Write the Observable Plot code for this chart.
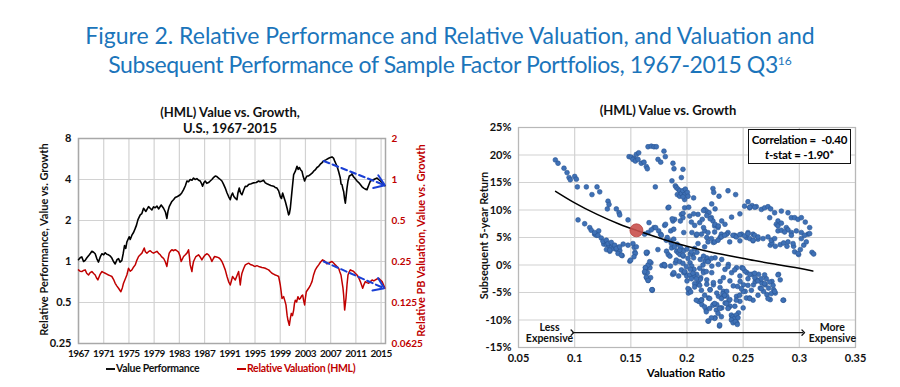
<!DOCTYPE html>
<html><head><meta charset="utf-8">
<script src="https://cdn.jsdelivr.net/npm/d3@7"></script>
<script src="https://cdn.jsdelivr.net/npm/@observablehq/plot@0.6"></script>
<style>
body{margin:0;background:#fff;}
#wrap{position:relative;width:900px;height:387px;overflow:hidden;font-family:Lato,"Open Sans",sans-serif;background:#fff;}
.abs{position:absolute;}
.title{left:0;width:900px;text-align:center;color:#1b75bb;font-size:23px;line-height:29px;top:21px;}
.title .l2{letter-spacing:-0.4px;}
.title sup{font-size:12px;vertical-align:top;position:relative;top:-4px;letter-spacing:0;}
.ptitle{font-weight:bold;font-size:13px;text-align:center;color:#111;line-height:16px;}
.rot{transform:rotate(-90deg);text-align:center;font-weight:bold;font-size:11px;white-space:nowrap;}
.legend{font-weight:bold;font-size:10.5px;top:362px;white-space:nowrap;letter-spacing:-0.3px;}
.sw{display:inline-block;width:9px;height:2px;vertical-align:middle;margin-right:1px;}
#corr{left:748px;top:129px;width:101px;height:31px;border:1.5px solid #111;background:#fff;font-weight:bold;font-size:11.5px;text-align:center;line-height:15px;padding-top:2px;white-space:nowrap;letter-spacing:-0.2px;}
#left g[aria-label="x-axis tick label"] text{letter-spacing:-0.5px;}
</style></head>
<body><div id="wrap">
<div class="abs title">Figure 2. Relative Performance and Relative Valuation, and Valuation and<br><span class="l2">Subsequent Performance of Sample Factor Portfolios, 1967-2015 Q3<sup>16</sup></span></div>
<div class="abs ptitle" style="left:130px;top:104px;width:200px;">(HML) Value vs. Growth,<br>U.S., 1967-2015</div>
<div id="left" class="abs" style="left:0;top:128px;"></div>
<div class="abs rot" style="left:-107px;top:233px;width:300px;color:#111;">Relative Performance, Value vs. Growth</div>
<div class="abs rot" style="left:270px;top:234px;width:300px;color:#c00000;">Relative PB Valuation, Value vs. Growth</div>
<div class="abs legend" style="left:106px;color:#111;"><span class="sw" style="background:#111"></span>Value Performance</div>
<div class="abs legend" style="left:237px;color:#c00000;"><span class="sw" style="background:#c00000"></span>Relative Valuation (HML)</div>
<div class="abs ptitle" style="left:568px;top:102px;width:200px;">(HML) Value vs. Growth</div>
<div id="right" class="abs" style="left:450px;top:117px;"></div>
<div class="abs rot" style="left:333px;top:229px;width:300px;color:#111;">Subsequent 5-year Return</div>
<div class="abs" style="left:586px;top:366px;width:200px;text-align:center;font-weight:bold;font-size:11.5px;">Valuation Ratio</div>
<div id="corr" class="abs">Correlation =&nbsp; -0.40<br><i>t</i>-stat = -1.90*</div>
</div>
<script>
// ---------- Left panel data ----------
const yearTicks = [1967,1971,1975,1979,1983,1987,1991,1995,1999,2003,2007,2011,2015];
const perfTicks = [0.25,0.5,1,2,4,8];
// Value performance (relative, log scale) [year, value]
const valuePerformance = [
[1967.0,1.03],[1967.3,1.07],[1967.53,1.08],[1967.8,1.0],[1968.06,1.02],[1968.3,1.06],[1968.59,1.10],[1968.9,1.15],[1969.12,1.19],[1969.4,1.17],[1969.65,1.14],[1969.9,1.05],[1970.17,0.99],[1970.45,1.08],[1970.70,1.14],[1971.0,1.12],[1971.23,1.16],[1971.5,1.13],[1971.76,1.12],[1972.0,1.10],[1972.29,1.06],[1972.55,1.0],[1972.82,0.96],[1973.1,1.03],[1973.35,1.05],[1973.6,0.99],[1973.88,1.02],[1974.1,1.15],[1974.30,1.31],[1974.5,1.25],[1974.67,1.39],[1975.04,1.52],[1975.2,1.45],[1975.47,1.56],[1975.75,1.64],[1976.0,1.75],[1976.2,1.85],[1976.42,2.02],[1976.79,2.2],[1977.05,2.25],[1977.32,2.46],[1977.69,2.33],[1978.11,2.53],[1978.4,2.45],[1978.64,2.39],[1978.9,2.52],[1979.17,2.48],[1979.45,2.55],[1979.70,2.43],[1980.12,2.6],[1980.49,2.46],[1980.8,2.3],[1981.02,2.07],[1981.2,2.35],[1981.39,2.53],[1981.81,2.76],[1982.1,2.85],[1982.34,2.95],[1982.7,3.0],[1983.14,3.09],[1983.4,3.2],[1983.67,3.37],[1983.95,3.6],[1984.20,3.9],[1984.45,3.85],[1984.72,4.0],[1985.0,3.95],[1985.25,4.1],[1985.5,4.0],[1985.78,4.06],[1986.05,3.95],[1986.31,3.9],[1986.5,3.75],[1986.68,3.57],[1986.9,3.8],[1987.11,3.9],[1987.35,3.75],[1987.63,3.8],[1987.9,3.9],[1988.16,4.0],[1988.45,4.15],[1988.69,4.24],[1988.95,4.2],[1989.22,4.1],[1989.5,4.0],[1989.75,3.9],[1990.0,3.7],[1990.28,3.46],[1990.55,3.2],[1990.81,3.0],[1991.07,2.84],[1991.25,3.05],[1991.44,3.18],[1991.65,3.0],[1991.87,2.92],[1992.13,2.84],[1992.3,3.2],[1992.50,3.46],[1992.7,3.2],[1992.93,3.09],[1993.2,3.35],[1993.46,3.57],[1993.7,3.55],[1993.98,3.67],[1994.4,3.72],[1994.78,3.78],[1995.2,3.8],[1995.57,3.9],[1995.8,3.85],[1996.10,3.9],[1996.35,3.95],[1996.63,3.78],[1996.9,3.72],[1997.16,3.67],[1997.5,3.62],[1997.95,3.57],[1998.2,3.5],[1998.48,3.46],[1998.75,3.3],[1999.01,3.0],[1999.2,2.9],[1999.38,3.18],[1999.6,2.95],[1999.81,2.76],[2000.1,2.45],[2000.33,2.2],[2000.45,2.25],[2000.60,2.46],[2000.86,3.27],[2001.13,4.35],[2001.4,4.6],[2001.66,5.0],[2001.85,4.75],[2002.03,4.9],[2002.25,4.7],[2002.45,4.6],[2002.65,4.2],[2002.87,3.9],[2003.05,4.1],[2003.24,4.24],[2003.5,4.25],[2003.77,4.35],[2004.05,4.45],[2004.30,4.6],[2004.55,4.7],[2004.83,4.9],[2005.1,5.0],[2005.36,5.18],[2005.6,5.3],[2005.89,5.48],[2006.3,5.6],[2006.68,5.73],[2006.95,5.8],[2007.21,5.86],[2007.45,5.75],[2007.63,5.48],[2007.85,5.2],[2008.01,5.0],[2008.25,4.6],[2008.53,4.1],[2008.65,3.7],[2008.80,3.67],[2008.95,3.4],[2009.06,3.27],[2009.2,2.9],[2009.33,2.68],[2009.45,3.0],[2009.59,3.46],[2009.75,3.9],[2009.96,4.24],[2010.2,4.3],[2010.39,4.4],[2010.6,4.2],[2010.81,4.1],[2011.0,4.0],[2011.18,3.9],[2011.45,3.8],[2011.71,3.67],[2011.95,3.55],[2012.24,3.46],[2012.5,3.4],[2012.77,3.37],[2013.0,3.6],[2013.30,3.9],[2013.55,3.95],[2013.83,4.0],[2014.1,4.05],[2014.36,4.1],[2014.6,4.0],[2014.89,3.9],[2015.2,3.8],[2015.41,3.67],[2015.6,3.6]
];
// Relative PB valuation (right axis) [year, value]
const relativeValuation = [
[1967.0,0.217],[1967.25,0.212],[1967.53,0.211],[1967.8,0.215],[1968.06,0.217],[1968.3,0.205],[1968.59,0.199],[1968.85,0.207],[1969.12,0.211],[1969.4,0.204],[1969.65,0.199],[1969.85,0.19],[1970.07,0.183],[1970.4,0.2],[1970.70,0.211],[1970.95,0.208],[1971.23,0.205],[1971.5,0.202],[1971.76,0.199],[1972.0,0.197],[1972.29,0.194],[1972.55,0.185],[1972.82,0.173],[1973.1,0.165],[1973.35,0.159],[1973.72,0.150],[1973.95,0.16],[1974.14,0.173],[1974.4,0.185],[1974.67,0.199],[1974.94,0.223],[1975.2,0.212],[1975.47,0.217],[1975.75,0.228],[1976.0,0.236],[1976.25,0.255],[1976.53,0.272],[1976.8,0.28],[1977.06,0.288],[1977.43,0.314],[1977.6,0.295],[1977.85,0.288],[1978.1,0.295],[1978.38,0.300],[1978.65,0.292],[1978.91,0.288],[1979.2,0.293],[1979.44,0.297],[1979.7,0.287],[1979.97,0.280],[1980.2,0.27],[1980.49,0.264],[1980.75,0.25],[1981.02,0.230],[1981.2,0.26],[1981.39,0.288],[1981.6,0.298],[1981.81,0.305],[1982.1,0.3],[1982.34,0.305],[1982.6,0.3],[1982.87,0.293],[1983.1,0.275],[1983.29,0.250],[1983.5,0.262],[1983.67,0.272],[1983.95,0.28],[1984.20,0.288],[1984.46,0.305],[1984.6,0.27],[1984.72,0.236],[1984.99,0.211],[1985.1,0.23],[1985.25,0.250],[1985.45,0.262],[1985.62,0.272],[1986.04,0.280],[1986.3,0.27],[1986.57,0.257],[1986.85,0.27],[1987.11,0.280],[1987.4,0.285],[1987.63,0.280],[1987.9,0.268],[1988.16,0.250],[1988.4,0.263],[1988.59,0.272],[1988.9,0.27],[1989.22,0.267],[1989.5,0.26],[1989.75,0.250],[1990.0,0.235],[1990.28,0.217],[1990.55,0.195],[1990.81,0.178],[1991.07,0.168],[1991.25,0.18],[1991.44,0.194],[1991.65,0.188],[1991.87,0.183],[1992.1,0.195],[1992.40,0.211],[1992.66,0.168],[1992.8,0.19],[1992.93,0.205],[1993.2,0.222],[1993.46,0.236],[1993.75,0.24],[1993.98,0.243],[1994.25,0.238],[1994.51,0.236],[1994.8,0.232],[1995.04,0.230],[1995.3,0.233],[1995.57,0.230],[1995.85,0.228],[1996.10,0.226],[1996.35,0.225],[1996.63,0.223],[1996.9,0.22],[1997.16,0.217],[1997.45,0.21],[1997.69,0.205],[1997.95,0.202],[1998.22,0.199],[1998.5,0.197],[1998.75,0.194],[1999.01,0.168],[1999.15,0.15],[1999.28,0.134],[1999.54,0.138],[1999.75,0.128],[1999.91,0.120],[2000.1,0.1],[2000.23,0.0925],[2000.44,0.085],[2000.6,0.095],[2000.76,0.104],[2000.95,0.1],[2001.13,0.110],[2001.25,0.122],[2001.39,0.130],[2001.6,0.126],[2001.81,0.138],[2002.0,0.132],[2002.19,0.134],[2002.4,0.14],[2002.56,0.142],[2002.7,0.13],[2002.87,0.120],[2003.0,0.135],[2003.14,0.150],[2003.35,0.155],[2003.51,0.159],[2003.8,0.168],[2004.04,0.178],[2004.3,0.2],[2004.57,0.217],[2004.85,0.228],[2005.10,0.236],[2005.4,0.248],[2005.73,0.257],[2005.95,0.254],[2006.15,0.250],[2006.4,0.24],[2006.68,0.243],[2006.95,0.247],[2007.21,0.250],[2007.5,0.243],[2007.74,0.236],[2008.0,0.23],[2008.27,0.223],[2008.45,0.21],[2008.64,0.199],[2008.80,0.178],[2008.95,0.16],[2009.06,0.142],[2009.22,0.110],[2009.43,0.134],[2009.6,0.17],[2009.75,0.199],[2009.95,0.21],[2010.12,0.217],[2010.4,0.214],[2010.65,0.211],[2010.9,0.205],[2011.18,0.199],[2011.45,0.19],[2011.71,0.178],[2011.9,0.168],[2012.08,0.159],[2012.3,0.17],[2012.50,0.178],[2012.75,0.175],[2013.04,0.173],[2013.3,0.178],[2013.57,0.183],[2013.85,0.18],[2014.10,0.183],[2014.35,0.186],[2014.63,0.188],[2014.9,0.183],[2015.16,0.178],[2015.4,0.168],[2015.6,0.159]
];
// Blue dashed trend arrows (start/end); k = right-axis scale factor
const trendArrows = [
  {x1:2005.9, y1:5.47, x2:2015.6, y2:3.63, k:1},
  {x1:2005.9, y1:0.25, x2:2015.5, y2:0.159, k:4}
];

// ---------- Right panel data ----------
const ratioTicks = [0.05,0.1,0.15,0.2,0.25,0.3,0.35];
const returnTicks = [-15,-10,-5,0,5,10,15,20,25];
// [valuation ratio, subsequent 5-year return %]
const scatterPoints = [
[.0828,19.1],[.0852,18.5],[.0905,17.6],[.0932,16.8],[.095,15.9],[.0961,15.5],[.1,16.1],[.1015,15.6],[.1024,14.2],[.1104,14.2],[.1154,12.8],[.1199,14.2],[.1223,13.3],[.1297,11.6],[.1306,11.0],[.1291,10.2],[.1371,10.2],[.1395,9.5],[.1401,9.1],[.1475,8.2],[.103,8.2],[.1089,7.5],[.1134,6.8],[.1214,6.2],[.1178,5.6],[.1193,5.4],
[.1484,19.7],[.1504,19.6],[.1528,19.4],[.1519,19.2],[.154,18.9],[.1549,20.1],[.1564,19.2],[.157,20.4],[.1593,18.5],[.1617,18.7],[.1638,17.9],[.1647,17.5],[.1653,21.5],[.1682,21.6],[.1706,21.5],[.1727,21.5],[.1742,19.2],[.1766,18.7],[.1795,20.7],[.1807,19.7],[.1875,18.5],[.1884,17.5],[.1964,17.4],[.195,15.9],[.1866,15.3],[.1896,14.4],[.1905,14.1],[.192,13.8],[.1935,13.5],[.1914,12.8],[.1935,12.5],[.195,13.0],[.1964,13.5],[.1979,12.8],[.1985,13.8],[.2003,13.2],[.2009,12.5],[.1979,11.9],[.1964,12.4],[.2059,12.2],[.1718,14.2],[.1831,10.4],[.1875,8.0],[.189,8.3],[.195,9.2],[.1964,8.6],[.1979,10.4],[.2024,8.9],[.2039,7.8],[.2068,7.2],[.2098,9.2],[.2113,7.7],[.2136,8.3],[.2157,10.1],[.2172,9.8],[.2196,9.5],[.2217,8.6],[.2231,8.0],[.2246,7.1],[.2276,6.8],[.2231,13.9],[.2238,13.2],[.2285,12.5],[.2365,13.5],[.2433,12.8],
[.1801,7.2],[.1855,6.2],[.1748,6.2],[.1706,6.8],[.1653,5.9],[.1623,5.6],[.1682,6.4],
[.2513,10.7],[.2543,11.5],[.2558,10.4],[.2579,10.8],[.2617,10.6],[.2662,10.1],[.2691,10.4],[.2721,10.6],[.2745,10.2],[.2736,8.6],[.278,9.5],[.281,8.0],[.284,9.8],[.2899,9.5],[.2929,8.6],[.2958,8.6],[.2988,8.3],[.3018,8.6],[.3053,7.8],[.2795,7.4],[.281,7.1],[.284,7.6],[.2884,6.8],[.2899,6.4],[.2929,5.9],[.2973,6.2],[.3018,5.9],[.3092,6.8],[.3077,5.6],[.2543,5.9],[.2588,5.6],[.2484,5.6],[.2424,5.4],[.2157,6.2],[.2187,5.9],[.2083,5.4],[.2128,5.6],[.2246,6.0],[.2306,5.6],[.2365,5.9],
[.1259,3.8],[.1283,3.7],[.1307,3.5],[.1327,3.2],[.1342,3.0],[.1357,3.4],[.1372,2.8],[.1387,3.2],[.1402,2.6],[.1423,1.7],[.1283,2.8],[.1313,2.5],[.1432,3.8],[.153,3.2],[.1536,2.3],[.1491,0.7],[.164,2.1],[.1625,-1.4],[.1634,-0.8],[.164,-2.3],[.1655,-2.8],[.167,-0.5],[.1679,0.4],[.169,-4.6],[.1741,2.8],[.1777,-0.1],[.1804,-0.2],[.1818,2.5],[.1833,1.9],[.1848,1.6],[.1863,3.1],[.1872,-1.7],[.1884,-1.6],[.1908,2.5],[.1923,2.2],[.1938,1.9],[.1952,2.8],[.1967,1.6],[.1982,-1.4],[.1997,-2.0],[.2012,-5.1],[.2021,-4.5],[.2027,0.4],[.2042,-0.2],[.2051,1.9],[.2063,-0.8],[.2086,-1.7],[.2101,-3.3],[.211,-6.6],[.2122,-2.3],[.2131,-6.3],[.2146,-1.1],[.2161,0.7],[.2176,1.3],[.2176,-2.7],[.217,-8.1],[.2191,-10.2],[.2205,-4.5],[.222,-1.4],[.2235,-3.6],[.225,-9.6],[.2265,-7.2],[.228,-5.7],[.2289,-11.1],[.2295,-3.0],[.231,-7.8],[.2324,-4.8],[.2339,-6.9],[.2354,-5.7],[.2369,-6.6],[.2384,-7.5],[.2399,-9.3],[.2414,-9.9],[.2429,-10.2],[.2443,-10.5],[.2458,-8.7],[.2449,-3.9],[.2473,-3.0],[.2488,-0.5],[.2503,-3.6],[.2518,-4.8],[.2533,-1.4],[.2557,-6.0],[.2577,-1.7],[.2592,-3.6],[.2607,-3.0],[.2622,-2.7],[.2637,-1.7],[.2652,-4.2],[.2667,-3.3],[.2682,-4.8],[.2696,-3.6],[.2711,-5.4],[.2726,-4.2],[.2741,-6.3],[.2756,-3.0],[.2771,-4.5],[.2786,-5.1],[.2815,-1.7],[.283,-2.7],[.286,-6.4],[.2741,3.6],[.2756,4.0],[.2786,3.4],[.283,3.7],[.286,4.0],[.289,3.4],[.2949,3.4],[.2994,1.9],[.3009,2.8],[.3039,3.6],[.3113,2.3],[.3128,2.0],
[.1838,10.5],[.2015,10.5],[.222,11.1],[.225,10.2],[.1965,9.4],[.2059,9.3],[.2147,9.9],[.2176,9.0],[.2206,8.4],[.225,7.4],[.2279,7.1],[.2309,8.0],[.2338,7.4],[.2397,8.7],[.2471,9.3],[.2559,10.5],[.2603,10.5],[.1662,7.7],[.1721,6.8],[.1809,7.4],[.1868,8.4],[.1882,6.5],[.1941,8.0],[.1971,5.9],[.2044,5.9],[.2088,5.6],[.2147,6.8],[.2176,5.0],[.2235,4.1],[.2294,5.0],[.2353,5.6],[.2426,5.3],[.2471,4.4],[.2529,5.0],[.2588,4.4],[.2632,4.7],[.1765,5.6],[.1824,5.0],[.1853,4.4],[.1882,4.7],[.1912,3.8],[.1941,3.2],[.1971,2.6],[.2,2.9],[.2029,2.0],[.2059,1.3],[.2088,2.3],[.2118,1.0],[.2147,1.6],[.2191,0.7],[.2221,-0.2],[.225,1.3],[.2279,0.1],[.2309,1.0],[.2338,-0.8],[.2368,0.1],[.2397,-1.4],[.2441,-0.5],[.2471,-2.0],[.2515,-1.1],[.2559,-1.7],[.2603,-2.3],[.2632,-2.9],[.1647,2.3],[.1632,-0.5],[.1647,-1.4],[.1676,-2.3],[.1691,-4.5],[.1794,0.1],[.1853,-0.2],[.1897,0.4],[.1882,-1.4],[.1926,-2.0],[.1971,-1.4],[.2,-2.9],[.2029,-0.8],[.2059,-2.0],[.2088,-3.5],[.2118,-2.6],[.2147,-1.4],[.2176,-3.5],[.2206,-4.5],[.2235,-3.2],[.2265,-5.1],[.2294,-4.1],[.2324,-5.7],[.2353,-4.8],[.2382,-6.3],[.2412,-3.8],[.2441,-5.7],[.2471,-6.6],[.25,-4.8],[.2529,-6.0],[.2324,-2.3],[.2382,-2.9],[.2103,-6.6],[.2132,-7.2],[.2191,-6.0],[.2235,-7.2],[.2294,-7.8],[.2368,-7.8],[.2426,-7.5],[.25,-7.8],
[.2083,-6.4],[.2128,-6.4],[.2157,-5.5],[.2202,-6.1],[.2157,-7.6],[.2172,-8.5],[.2202,-7.9],[.2231,-7.3],[.2246,-7.0],[.2261,-8.2],[.2291,-7.9],[.2306,-6.1],[.232,-5.2],[.2335,-5.5],[.235,-7.0],[.2365,-7.9],[.2276,-8.8],[.2306,-9.4],[.2246,-9.7],[.2217,-9.6],[.2187,-10.2],[.2291,-10.9],[.2395,-9.1],[.241,-9.4],[.2424,-9.7],[.2439,-9.1],[.2454,-9.6],[.2395,-10.0],[.241,-10.5],[.243,-10.3],[.2448,-10.8],[.2439,-6.4],[.2469,-5.5],[.2484,-4.3],[.2543,-3.7],[.2573,-4.6],[.2588,-6.4],[.2558,-6.1],[.2632,-5.5],[.2662,-4.3],[.2691,-3.4],[.2706,-2.5],[.2721,-6.1],[.275,-5.2],[.278,-4.8],[.281,-1.8],[.2855,-6.4],[.2499,-0.6],[.2424,-0.9],[.2365,-0.3],[.2543,-2.5],[.2602,-1.5],[.2662,-2.5],[.2691,-1.8],[.2736,-3.1],[.2766,-3.7],
[.1148,6.3],[.1178,5.9],[.1208,5.4],[.1237,4.9],[.1252,4.3],[.1282,4.5],[.1297,3.9],[.1326,4.1],[.1356,3.6],[.1371,3.0],[.1401,3.3],[.1312,2.7],[.1386,2.1],[.1415,1.8],[.1475,3.6],[.1499,0.9],[.1519,3.9],[.154,2.1],[.1549,3.3],[.1528,1.5],[.1638,2.3],[.1653,0.0],[.1629,-0.5],[.1623,-1.2],[.1638,-2.2],[.1653,-2.8],[.1688,-4.5],[.1668,0.6],
[.2409,5.4],[.2439,5.1],[.2469,5.5],[.2513,5.3],[.2543,5.7],[.2558,4.8],[.2588,4.5],[.2602,5.4],[.2632,5.1],[.2677,4.8],[.2721,5.1],[.275,4.5],[.278,4.8],[.281,6.2],[.284,6.3],[.2869,6.0],[.2899,4.2],[.2929,5.4],[.2944,3.9],[.2958,2.4],[.2988,2.1],[.3018,4.8],[.3047,5.4],[.3062,4.2],[.3092,5.7],
[.1772,5.4],[.1816,4.5],[.1861,3.9],[.189,3.3],[.1935,2.7],[.1964,1.8],[.2009,1.2],[.2039,2.4],[.2068,3.0],[.2098,3.9],[.2157,3.3],[.2187,4.2],[.2217,4.8],[.2246,4.2],[.2276,4.5],[.2306,5.1],[.2335,5.4],[.238,4.2],
[.1905,0.9],[.1935,0.6],[.1964,0.3],[.1994,-0.3],[.195,-0.9],[.1979,-1.2],[.2024,-1.8],[.2053,-1.5],[.2083,-2.5],[.2113,-0.6],[.2142,0.0],[.2172,-1.2],[.2187,0.6],[.2217,1.2],[.1801,0.0],[.2039,-2.5],[.2068,-3.4],[.2009,-4.3],[.2033,-4.9],[.2068,-4.0],[.2113,-3.7],[.2128,-4.6]
];
// Fitted curve [ratio, return %]
const fitCurve = [[0.083,13.4],[0.1,11.3],[0.12,9.2],[0.14,7.4],[0.155,6.3],[0.18,4.6],[0.2,3.4],[0.22,2.4],[0.24,1.6],[0.26,0.8],[0.28,0.1],[0.3,-0.6],[0.312,-1.1]];
// Current valuation point
const currentPoint = [[0.155,6.3]];
// Less/More expensive annotation
const expensiveArrow = [{x1:0.098, x2:0.3035, y:-12.3}];
const expensiveLabels = [{x:0.0776, y:-12.4, text:"Less\nExpensive"},{x:0.3294, y:-12.4, text:"More\nExpensive"}];

// ---------- Left chart ----------
const blue = "#1a3fd4";
const leftChart = Plot.plot({
  width: 450, height: 237, marginLeft: 78, marginRight: 65, marginTop: 10, marginBottom: 22,
  style: {fontFamily: "Lato, sans-serif", fontSize: "11px", fontWeight: "bold", color: "#111", background: "transparent"},
  x: {domain: [1967, 2015.7]},
  y: {type: "log", base: 2, domain: [0.25, 8]},
  marks: [
    Plot.gridX(yearTicks, {stroke: "#d2d2d2", strokeOpacity: 1, strokeWidth: 1.2}),
    Plot.gridY(perfTicks, {stroke: "#d2d2d2", strokeOpacity: 1, strokeWidth: 1.2}),
    Plot.frame({stroke: "#a8a8a8", strokeWidth: 1.5}),
    Plot.axisY(perfTicks, {anchor: "left", tickSize: 0, tickPadding: 7, label: null, tickFormat: d => String(d), fontSize: 11, fontWeight: "bold"}),
    Plot.axisY(perfTicks, {anchor: "right", tickSize: 0, tickPadding: 6, label: null, tickFormat: d => String(d/4), fill: "#c00000", fontSize: 10, fontWeight: "bold"}),
    Plot.axisX(yearTicks, {tickSize: 0, tickPadding: 6, label: null, tickFormat: d => String(d), fontSize: 10, fontWeight: "bold"}),
    Plot.line(relativeValuation, {x: d => d[0], y: d => d[1]*4, stroke: "#c00000", strokeWidth: 1.5}),
    Plot.line(valuePerformance, {x: d => d[0], y: d => d[1], stroke: "#000", strokeWidth: 1.6}),
    Plot.arrow(trendArrows, {x1: "x1", y1: d => d.y1*d.k, x2: "x2", y2: d => d.y2*d.k, stroke: blue, strokeWidth: 2, headLength: 9, headAngle: 70})
  ]
});
// split each arrow path: dashed shaft, solid head
leftChart.querySelectorAll('g[aria-label="arrow"] path').forEach(p => {
  const d = p.getAttribute("d");
  const i = d.indexOf("M", 1);
  if (i > 0) {
    const head = p.cloneNode();
    head.setAttribute("d", d.slice(i));
    p.setAttribute("d", d.slice(0, i));
    p.setAttribute("stroke-dasharray", "6,3.5");
    p.parentNode.appendChild(head);
  }
});
document.getElementById("left").appendChild(leftChart);

// ---------- Right chart ----------
const rightChart = Plot.plot({
  width: 450, height: 270, marginLeft: 68, marginRight: 45, marginTop: 10, marginBottom: 40,
  style: {fontFamily: "Lato, sans-serif", fontSize: "11px", fontWeight: "bold", color: "#111", background: "transparent"},
  x: {domain: [0.05, 0.35]},
  y: {domain: [-15, 25]},
  marks: [
    Plot.gridX(ratioTicks, {stroke: "#d2d2d2", strokeOpacity: 1, strokeWidth: 1.2}),
    Plot.gridY(returnTicks, {stroke: "#d2d2d2", strokeOpacity: 1, strokeWidth: 1.2}),
    Plot.frame({stroke: "#b8b8b8", strokeWidth: 1.2}),
    Plot.axisY(returnTicks, {tickSize: 0, tickPadding: 7, label: null, tickFormat: d => d + "%", fontSize: 11, fontWeight: "bold"}),
    Plot.axisX(ratioTicks, {tickSize: 0, tickPadding: 7, label: null, tickFormat: d => String(d), fontSize: 11, fontWeight: "bold"}),
    Plot.dot(scatterPoints, {x: d => d[0], y: d => d[1], r: 2.4, fill: "#3f71b6", stroke: "#2a5693", strokeWidth: 0.6}),
    Plot.line(fitCurve, {x: d => d[0], y: d => d[1], stroke: "#000", strokeWidth: 1.5, curve: "natural"}),
    Plot.dot(currentPoint, {x: d => d[0], y: d => d[1], r: 6.5, fill: "#c9504c", fillOpacity: 0.9, stroke: "#b8433f", strokeWidth: 0.8}),
    Plot.link(expensiveArrow, {x1: "x1", x2: "x2", y1: "y", y2: "y", stroke: "#111", strokeWidth: 1.3, markerStart: "arrow", markerEnd: "arrow"}),
    Plot.text(expensiveLabels, {x: "x", y: "y", text: "text", fontSize: 10.5, fontWeight: "bold", lineHeight: 1.05, fill: "#111"})
  ]
});
document.getElementById("right").appendChild(rightChart);
</script>
</body></html>
